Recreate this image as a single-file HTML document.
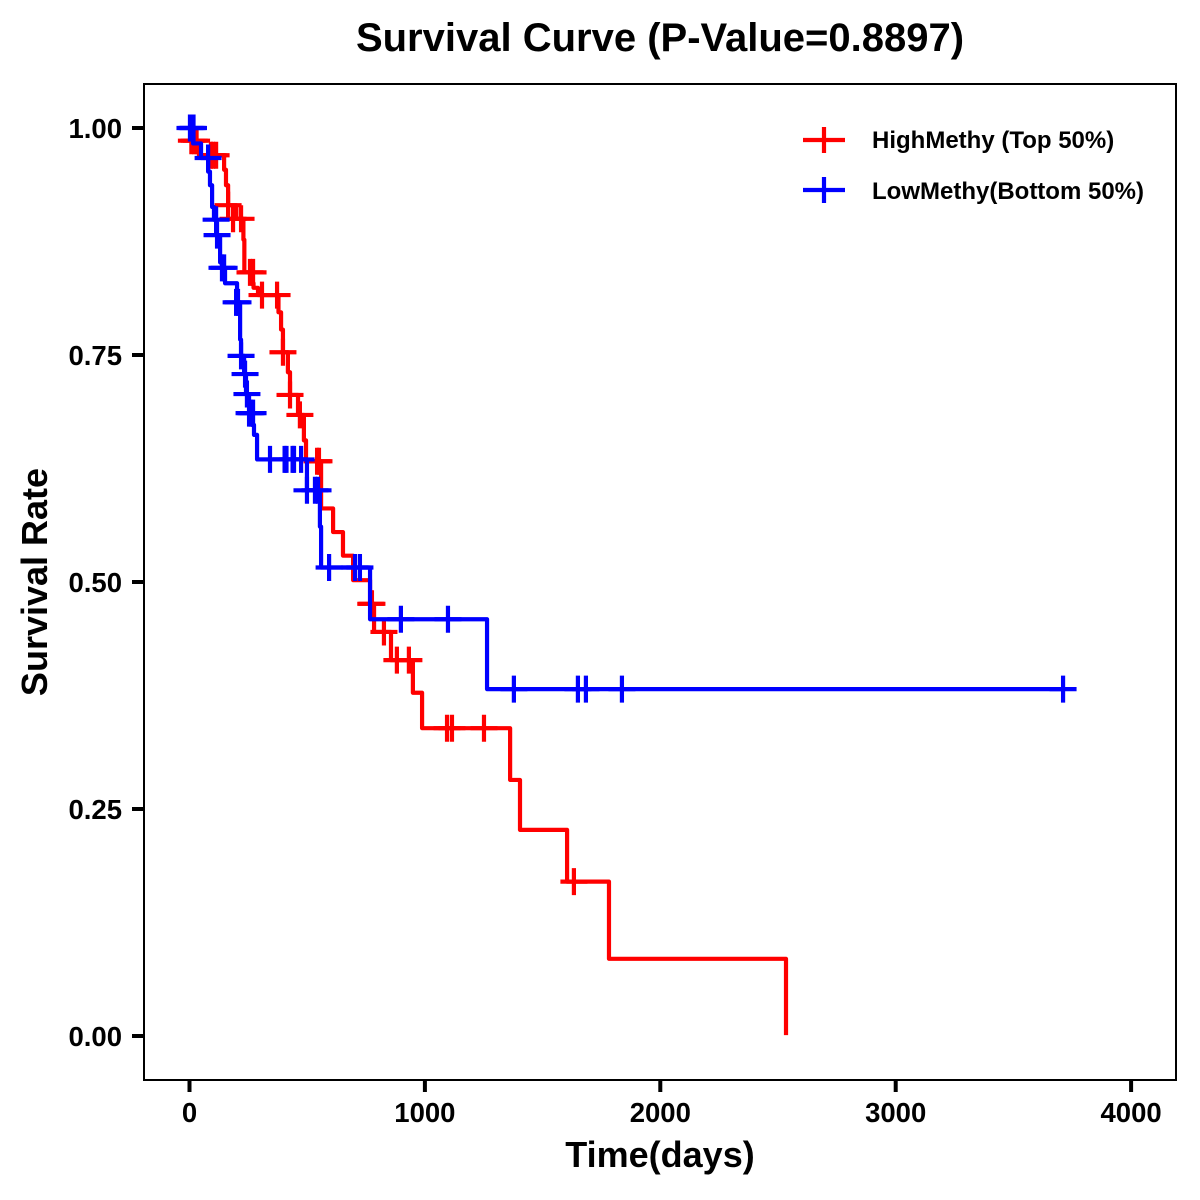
<!DOCTYPE html>
<html lang="en">
<head>
<meta charset="utf-8">
<title>Survival Curve</title>
<style>
html,body{margin:0;padding:0;background:#fff;}
svg{display:block;}
text{font-family:"Liberation Sans",Arial,sans-serif;font-weight:bold;fill:#000;}
</style>
</head>
<body>
<svg id="chart" width="1200" height="1200" viewBox="0 0 1200 1200">
<rect width="1200" height="1200" fill="#fff"/>
<rect x="144" y="84" width="1032" height="996" fill="none" stroke="#000" stroke-width="2"/>
<text x="660" y="51" text-anchor="middle" font-size="40">Survival Curve (P-Value=0.8897)</text>
<text x="660" y="1167" text-anchor="middle" font-size="36">Time(days)</text>
<text transform="translate(47,582) rotate(-90)" text-anchor="middle" font-size="36">Survival Rate</text>
<g id="ticks"></g>
<g id="series"></g>
<g>
  <g>
    <line x1="803" x2="845" y1="140" y2="140" stroke="#f00" stroke-width="4.2"/>
    <line x1="824" x2="824" y1="127" y2="153" stroke="#f00" stroke-width="4.2"/>
    <text x="872" y="148" font-size="24">HighMethy (Top 50%)</text>
  </g>
  <g>
    <line x1="803" x2="845" y1="190" y2="190" stroke="#00f" stroke-width="4.2"/>
    <line x1="824" x2="824" y1="177" y2="203" stroke="#00f" stroke-width="4.2"/>
    <text x="872" y="199" font-size="24">LowMethy(Bottom 50%)</text>
  </g>
</g>
</svg>
<script>
const xTicks = [0, 1000, 2000, 3000, 4000];
const yTicks = [0, 0.25, 0.5, 0.75, 1];
const yTickLabels = ["0.00", "0.25", "0.50", "0.75", "1.00"];

const highTimes = [6,32,40,147,155,164,199,229,233,268,272,291,378,389,397,418,427,461,486,495,559,610,652,695,767,784,856,949,988,1362,1404,1604,1782,2534];
const highSurv = [0.986,0.976,0.970,0.954,0.937,0.915,0.900,0.877,0.841,0.829,0.824,0.816,0.797,0.778,0.753,0.731,0.706,0.684,0.656,0.633,0.581,0.555,0.529,0.502,0.476,0.445,0.414,0.378,0.339,0.282,0.227,0.170,0.085,0.001];
const highCensorTimes = [8,20,30,91,100,113,164,185,219,257,270,308,372,397,427,469,542,550,770,775,826,881,932,1094,1115,1251,1633];
const highCensorSurv = [0.986,0.986,0.986,0.970,0.970,0.970,0.915,0.900,0.900,0.841,0.841,0.816,0.816,0.753,0.706,0.684,0.633,0.633,0.476,0.476,0.445,0.414,0.414,0.339,0.339,0.339,0.170];

const lowTimes = [15,49,79,87,96,104,113,130,138,151,202,215,219,232,240,253,266,274,287,499,554,559,767,1264,3711];
const lowSurv = [0.983,0.967,0.952,0.937,0.913,0.899,0.882,0.852,0.846,0.829,0.808,0.767,0.749,0.729,0.707,0.686,0.673,0.662,0.635,0.601,0.561,0.516,0.459,0.382,0.382];
const lowCensorTimes = [2,11,17,79,113,117,138,147,198,206,219,236,244,253,261,270,342,404,412,438,444,474,499,533,546,593,703,724,898,1098,1378,1650,1684,1837,3711];
const lowCensorSurv = [1,1,1,0.967,0.899,0.882,0.846,0.846,0.808,0.808,0.749,0.729,0.707,0.686,0.686,0.686,0.635,0.635,0.635,0.635,0.635,0.635,0.601,0.601,0.601,0.516,0.516,0.516,0.459,0.459,0.382,0.382,0.382,0.382,0.382];

const NS = 'http://www.w3.org/2000/svg';
const xScale = t => 189.5 + t * 0.2354;
const yScale = s => 1036 - s * 908;
const CROSS = 13.5;

function svgEl(tag, attrs, parent) {
  const el = document.createElementNS(NS, tag);
  for (const k in attrs) el.setAttribute(k, attrs[k]);
  parent.appendChild(el);
  return el;
}

const ticksG = document.getElementById('ticks');
xTicks.forEach(t => {
  const x = xScale(t);
  const tick = svgEl('line', {x1: x, x2: x, y1: 1081, y2: 1092, stroke: '#000', 'stroke-width': 4}, ticksG);
  
  
  const label = svgEl('text', {x: x, y: 1122, 'text-anchor': 'middle', 'font-size': 27.5}, ticksG);
  label.textContent = String(t);
  
  
});
yTicks.forEach((s, i) => {
  const y = yScale(s);
  const tick = svgEl('line', {x1: 132, x2: 143, y1: y, y2: y, stroke: '#000', 'stroke-width': 4}, ticksG);
  
  
  const label = svgEl('text', {x: 122, y: y + 10, 'text-anchor': 'end', 'font-size': 27.5}, ticksG);
  label.textContent = yTickLabels[i];
  
  
});

const seriesG = document.getElementById('series');
function drawSeries(name, color, times, surv, censorT, censorS) {
  const g = svgEl('g', {}, seriesG);
  
  
  let d = 'M' + xScale(0) + ' ' + yScale(1);
  times.forEach((t, i) => {
    d += 'H' + xScale(t) + 'V' + yScale(surv[i]);
  });
  const line = svgEl('path', {d: d, fill: 'none', stroke: color, 'stroke-width': 4.2, 'stroke-linejoin': 'round'}, g);
  
  
  censorT.forEach((t, i) => {
    const x = xScale(t), y = yScale(censorS[i]);
    const mark = svgEl('path', {
      d: 'M' + (x - CROSS) + ' ' + y + 'H' + (x + CROSS) + 'M' + x + ' ' + (y - CROSS) + 'V' + (y + CROSS),
      fill: 'none', stroke: color, 'stroke-width': 4.2
    }, g);
    
    
  });
}
drawSeries('high-methy', '#f00', highTimes, highSurv, highCensorTimes, highCensorSurv);
drawSeries('low-methy', '#00f', lowTimes, lowSurv, lowCensorTimes, lowCensorSurv);
</script>
</body>
</html>
